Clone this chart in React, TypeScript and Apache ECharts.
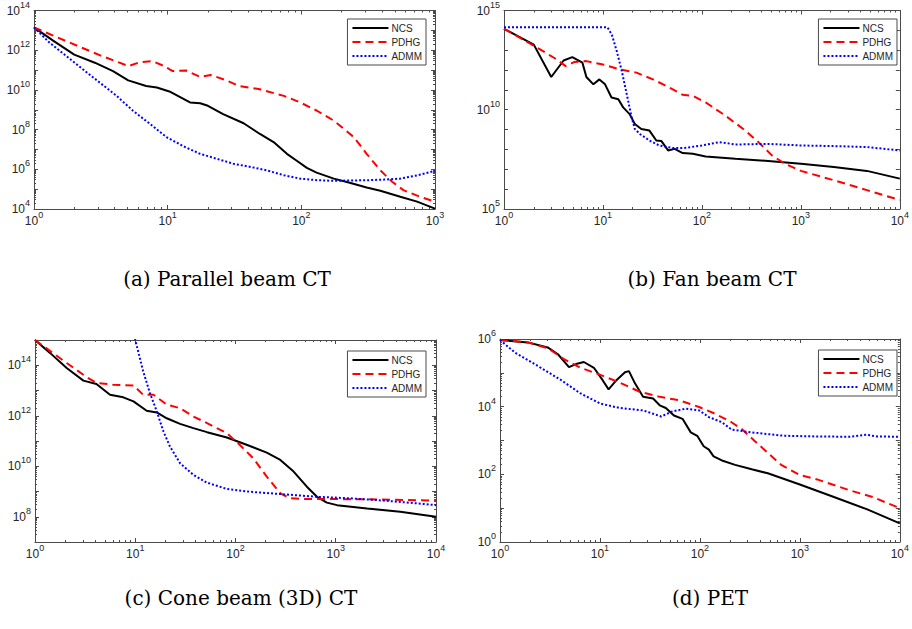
import React, { useEffect, useRef } from 'react';
import * as echarts from 'echarts';

type P = [number, number];

// Each point: [iteration, log10(objective value)]
const ncsA: P[] = [[1,13.15],[1.39,12.48],[2,11.78],[2.85,11.37],[3.9,10.95],[5.07,10.48],[6.9,10.2],[8.3,10.12],[10.3,9.92],[14.7,9.37],[17.5,9.33],[20,9.2],[26,8.78],[37,8.32],[49,7.78],[62,7.37],[78,6.78],[93,6.42],[110,6.07],[130,5.83],[175,5.53],[230,5.32],[308,5.08],[390,4.92],[550,4.62],[735,4.37],[1000,4.02]];
const pdhgA: P[] = [[1,13.15],[1.75,12.45],[3.1,11.75],[5.1,11.2],[6.2,11.4],[7.7,11.45],[9.2,11.23],[10.9,10.95],[13.7,10.98],[17.5,10.65],[21,10.75],[27.6,10.48],[34,10.2],[49,10.03],[74,9.7],[98,9.37],[131,8.95],[175,8.45],[247,7.62],[308,6.78],[390,5.95],[478,5.37],[580,4.95],[770,4.62],[1000,4.37]];
const admmA: P[] = [[1,13.15],[1.31,12.37],[1.75,11.7],[2.33,11.03],[3.1,10.37],[4.15,9.7],[5.5,8.95],[7.4,8.28],[9.8,7.62],[13.2,7.15],[17.5,6.78],[23.3,6.53],[31,6.28],[41.6,6.12],[55,5.95],[74,5.7],[98,5.53],[131,5.45],[175,5.42],[308,5.45],[415,5.48],[550,5.53],[740,5.7],[1000,5.92]];

const ncsB: P[] = [[1,14.08],[2,13.28],[3,11.65],[4,12.48],[4.9,12.65],[6.2,12.37],[6.8,11.65],[8,11.28],[9.2,11.53],[10.5,11.28],[12.2,10.62],[14.3,10.53],[16,10.12],[18.6,9.78],[21,9.28],[24.4,9.03],[29.5,8.95],[34.6,8.45],[39,8.42],[45.5,7.95],[53,8.03],[64,7.82],[81,7.78],[109,7.65],[218,7.53],[468,7.42],[1000,7.28],[2150,7.12],[4650,6.92],[10000,6.53]];
const pdhgB: P[] = [[1,14.08],[2,13.23],[3.2,12.62],[4.2,12.2],[5.1,12.4],[6.8,12.45],[10,12.28],[14.8,12.03],[21.8,11.87],[32,11.53],[47,11.12],[64,10.75],[81,10.7],[109,10.37],[173,9.7],[275,8.95],[372,8.37],[510,7.7],[690,7.28],[1000,6.92],[2150,6.45],[4650,5.95],[10000,5.45]];
const admmB: P[] = [[1,14.15],[11.1,14.15],[12.3,13.78],[13.8,12.95],[15.5,11.95],[17.4,10.78],[19.5,9.62],[21,9.03],[23.6,8.78],[29.5,8.45],[37,8.2],[51,8.07],[68,8.08],[100,8.2],[150,8.37],[218,8.25],[468,8.28],[1000,8.2],[2150,8.17],[4650,8.12],[10000,7.95]];

const ncsC: P[] = [[1,15.0],[1.41,14.49],[2.07,13.89],[3.04,13.39],[4.1,13.26],[5.6,12.83],[7.6,12.73],[9.6,12.57],[13,12.2],[16.4,12.13],[20.6,11.9],[28,11.68],[38,11.51],[52,11.35],[82,11.14],[129,10.85],[205,10.54],[280,10.25],[380,9.79],[515,9.19],[650,8.79],[815,8.56],[1030,8.46],[2050,8.33],[4400,8.2],[10000,8.0]];
const pdhgC: P[] = [[1,15.0],[2.07,14.09],[3.3,13.52],[4.1,13.3],[6,13.23],[9.6,13.2],[12,12.83],[15.2,12.83],[20.6,12.44],[28,12.3],[38,11.97],[52,11.71],[82,11.31],[110,10.85],[150,10.32],[205,9.59],[280,8.93],[350,8.73],[515,8.7],[950,8.7],[2050,8.69],[10000,8.64]];
const admmC: P[] = [[9,16.0],[10,15.0],[12,13.76],[14,12.9],[16.4,12.17],[19.1,11.38],[22.2,10.78],[28,10.12],[38,9.66],[52,9.35],[82,9.1],[140,8.99],[300,8.89],[650,8.79],[1400,8.73],[3000,8.64],[6400,8.53],[10000,8.46]];

const ncsD: P[] = [[1,5.97],[1.9,5.9],[3,5.75],[3.8,5.55],[4.9,5.17],[5.9,5.27],[6.9,5.32],[8.7,5.15],[10.6,4.79],[12.2,4.51],[14.7,4.79],[17.8,5.02],[19.5,5.05],[22.4,4.69],[27,4.29],[34,4.24],[39.6,4.04],[45.6,3.96],[55,3.74],[67,3.64],[81,3.24],[94,3.14],[109,2.83],[123,2.73],[137,2.53],[166,2.41],[225,2.28],[330,2.15],[478,2.03],[1000,1.7],[2190,1.33],[4660,0.97],[10000,0.55]];
const pdhgD: P[] = [[1,5.97],[1.9,5.9],[3,5.73],[4.4,5.4],[6.4,5.15],[10.1,4.94],[15.8,4.71],[25,4.44],[39.6,4.29],[62,4.19],[98,3.99],[142,3.79],[207,3.54],[262,3.34],[355,2.98],[480,2.63],[650,2.28],[1000,1.98],[1490,1.85],[3130,1.53],[5330,1.33],[10000,1.0]];
const admmD: P[] = [[1,5.97],[1.41,5.6],[2.4,5.2],[4.06,4.79],[6.4,4.39],[10.1,4.09],[15.8,3.96],[27,3.89],[41,3.71],[53,3.86],[72,3.94],[98,3.89],[123,3.69],[166,3.54],[208,3.32],[330,3.24],[690,3.14],[1480,3.12],[3150,3.11],[4660,3.17],[5870,3.12],[10000,3.11]];

const seriesNames = ['NCS', 'PDHG', 'ADMM'];
const panelData: P[][][] = [
  [ncsA, pdhgA, admmA],
  [ncsB, pdhgB, admmB],
  [ncsC, pdhgC, admmC],
  [ncsD, pdhgD, admmD],
];
const captions = ['(a) Parallel beam CT', '(b) Fan beam CT', '(c) Cone beam (3D) CT', '(d) PET'];
// axis ranges as powers of ten
const xMaxExp = [3, 4, 4, 4];
const yMinExp = [4, 5, 7, 0];
const yMaxExp = [14, 15, 15, 6];
// exponents that carry a tick label
const xLabelExp = [[0, 1, 2, 3], [0, 1, 2, 3, 4], [0, 1, 2, 3, 4], [0, 1, 2, 3, 4]];
const yLabelExp = [[4, 6, 8, 10, 12, 14], [5, 10, 15], [8, 10, 12, 14], [0, 2, 4, 6]];
// whether the y axis shows 2..9 minor ticks inside each decade
const yMinorTicks = [true, false, true, true];

// layout (pixels)
const grids = [
  { left: 34, top: 9, width: 401, height: 200 },
  { left: 504, top: 9, width: 402, height: 200 },
  { left: 35, top: 340, width: 401, height: 202 },
  { left: 500, top: 339, width: 406, height: 203 },
];
const legendPos = [
  { right: 486, top: 19 },
  { right: 15, top: 19 },
  { right: 486, top: 351 },
  { right: 15, top: 350 },
];
const captionPos = [
  { x: 227, y: 279 },
  { x: 712, y: 279 },
  { x: 241, y: 598 },
  { x: 710, y: 598 },
];

const AXIS_COLOR = '#4a4a4a';
const TEXT_COLOR = '#262626';
const SANS = '"Liberation Sans", Arial, Helvetica, sans-serif';

const lineStyles = [
  { color: '#000000', width: 2, type: 'solid' as any },
  { color: '#ff0000', width: 2, type: [8, 5] as any },
  { color: '#0000ff', width: 2, type: [2, 2] as any },
];

function expLabel(labels: number[]) {
  return (v: number) => {
    const e = Math.round(Math.log10(v));
    return labels.includes(e) ? `{b|10}{s|${e}}` : '';
  };
}

const rich = {
  b: { fontSize: 12, fontFamily: SANS, color: TEXT_COLOR },
  s: { fontSize: 9, fontFamily: SANS, color: TEXT_COLOR, padding: [0, 0, 12, 0] },
};

function buildOption() {
  const xAxis: any[] = [];
  const yAxis: any[] = [];
  const series: any[] = [];
  const legend: any[] = [];
  const graphic: any[] = [];

  grids.forEach((_, i) => {
    const xCommon = {
      type: 'log', logBase: 10, gridIndex: i,
      min: 1, max: Math.pow(10, xMaxExp[i]), interval: 1,
      axisLine: { show: true, lineStyle: { color: AXIS_COLOR, width: 1 } },
      axisTick: { show: true, inside: true, length: 4, lineStyle: { color: AXIS_COLOR } },
      minorTick: { show: true, splitNumber: 9, length: 2, lineStyle: { color: AXIS_COLOR } },
      splitLine: { show: false },
      minorSplitLine: { show: false },
    };
    xAxis.push({
      ...xCommon, position: 'bottom',
      axisLabel: { show: true, margin: 1, formatter: expLabel(xLabelExp[i]), rich, showMinLabel: true, showMaxLabel: true },
    });
    xAxis.push({ ...xCommon, position: 'top', axisLabel: { show: false } });

    const yCommon = {
      type: 'log', logBase: 10, gridIndex: i,
      min: Math.pow(10, yMinExp[i]), max: Math.pow(10, yMaxExp[i]), interval: 1,
      axisLine: { show: true, lineStyle: { color: AXIS_COLOR, width: 1 } },
      axisTick: { show: true, inside: true, length: 4, lineStyle: { color: AXIS_COLOR } },
      minorTick: { show: yMinorTicks[i], splitNumber: 9, length: 2, lineStyle: { color: AXIS_COLOR } },
      splitLine: { show: false },
      minorSplitLine: { show: false },
    };
    yAxis.push({
      ...yCommon, position: 'left',
      axisLabel: { show: true, margin: 4, formatter: expLabel(yLabelExp[i]), rich, showMinLabel: true, showMaxLabel: true },
    });
    yAxis.push({ ...yCommon, position: 'right', axisLabel: { show: false } });

    panelData[i].forEach((pts, k) => {
      series.push({
        type: 'line',
        name: seriesNames[k],
        xAxisIndex: 2 * i,
        yAxisIndex: 2 * i,
        data: pts.map(([x, e]) => [x, Math.pow(10, e)]),
        showSymbol: false,
        symbol: 'none',
        clip: true,
        lineStyle: lineStyles[k],
        itemStyle: { color: lineStyles[k].color },
        z: 3 + k,
      });
    });

    legend.push({
      data: seriesNames,
      orient: 'vertical',
      ...legendPos[i],
      itemWidth: 36,
      itemHeight: 10,
      itemGap: 4,
      padding: [4, 4, 4, 4],
      backgroundColor: '#ffffff',
      borderColor: AXIS_COLOR,
      borderWidth: 1,
      borderRadius: 0,
      selectedMode: false,
      itemStyle: { opacity: 0, color: 'rgba(0,0,0,0)', borderWidth: 0 },
      textStyle: { fontSize: 10, fontFamily: SANS, color: TEXT_COLOR, padding: [0, 0, 0, -2] },
    });

    graphic.push({
      type: 'text',
      x: captionPos[i].x,
      y: captionPos[i].y,
      style: {
        text: captions[i],
        font: '20px "DejaVu Serif", "Liberation Serif", serif',
        fill: '#000000',
        textAlign: 'center',
        textVerticalAlign: 'middle',
      },
    });
  });

  return {
    animation: false,
    backgroundColor: '#ffffff',
    grid: grids.map((g) => ({ ...g, containLabel: false })),
    xAxis,
    yAxis,
    series,
    legend,
    graphic,
  };
}

export default function App() {
  const ref = useRef<HTMLDivElement>(null);
  useEffect(() => {
    if (!ref.current) return;
    const chart = echarts.init(ref.current, undefined, { renderer: 'svg' });
    chart.setOption(buildOption() as any);
    return () => chart.dispose();
  }, []);
  return (
    <div
      ref={ref}
      style={{ position: 'absolute', left: 0, top: 0, width: 912, height: 629, background: '#fff' }}
    />
  );
}
